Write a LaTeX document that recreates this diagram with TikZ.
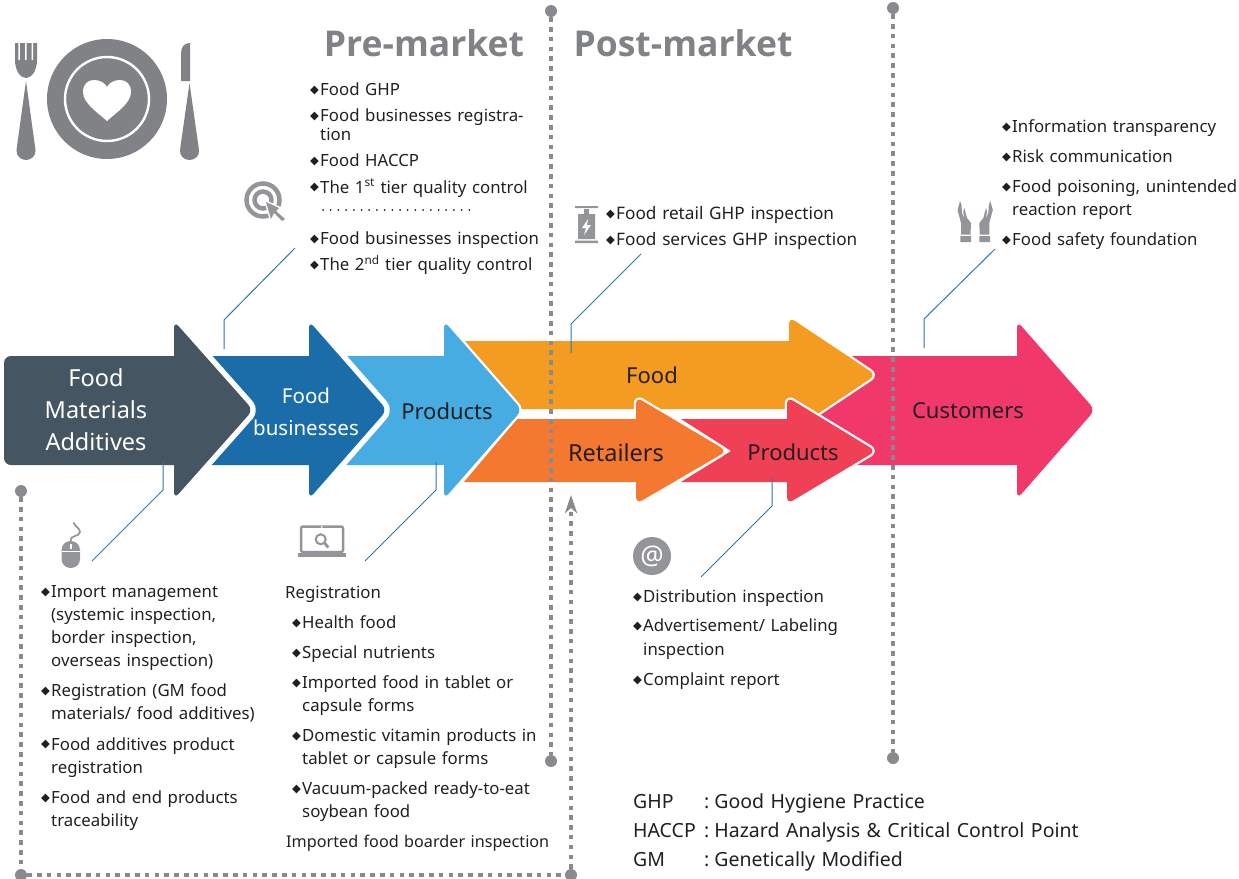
\documentclass[tikz,border=0pt]{standalone}
\usepackage{fontspec}
\setmainfont{Noto Sans}
\newfontfamily\symfont{DejaVu Sans}
\newfontfamily\headfont{Open Sans}
\usepackage{tikz}
\usetikzlibrary{arrows.meta}
\definecolor{matcol}{HTML}{455561}
\definecolor{buscol}{HTML}{1A6DA9}
\definecolor{procol}{HTML}{47ACE2}
\definecolor{foodcol}{HTML}{F39C21}
\definecolor{retcol}{HTML}{F4782F}
\definecolor{redcol}{HTML}{EF4055}
\definecolor{cuscol}{HTML}{F0396A}
\definecolor{iconcol}{HTML}{808285}
\definecolor{softcol}{HTML}{939598}
\definecolor{dotcol}{HTML}{8A8A8E}
\definecolor{leadcol}{HTML}{2B78B4}
\definecolor{inkcol}{HTML}{231F20}
\newcommand{\dia}{\raisebox{2.5pt}{\makebox[10pt][l]{\symfont\fontsize{11.5}{11.5}\selectfont ◆}}}
\newcommand{\ind}{\hspace*{10pt}}

\begin{document}
\begin{tikzpicture}[x=1pt,y=-1pt,node distance=30pt,text=inkcol]
\tikzset{wideband/.style={preaction={draw=white,line width=11pt,line join=round}}}
\tikzset{thinband/.style={preaction={draw=white,line width=4.5pt,line join=round}}}
\tikzset{tipc/.style={rounded corners=7pt},flat/.style={sharp corners}}
\tikzset{dotline/.style={draw=dotcol,line width=4pt,dash pattern=on 4.5pt off 5.3pt}}
\tikzset{dotend/.style={circle,fill=dotcol,inner sep=0pt,minimum size=12pt}}
\tikzset{leader/.style={draw=leadcol,line width=1pt}}
\tikzset{item/.style={inner sep=0pt,text width=#1,align=left,font=\fontsize{16.8}{19}\selectfont,
                      execute at begin node=\strut,execute at end node=\strut}}
\tikzset{arrowtext/.style={inner sep=0pt,align=center,font=\fontsize{22}{32}\selectfont}}
\tikzset{headtext/.style={inner sep=0pt,text=iconcol,font=\fontsize{35.5}{40}\headfont\bfseries}}
\tikzset{abbrev/.style={item=480pt,font=\fontsize{19.5}{19}\selectfont}}
\useasboundingbox (0,0) rectangle (1239,878);

        % arrows
        \path[thinband,fill=cuscol] (800,356) [flat] -- (1017,356) [tipc] -- (1017,321) -- (1095,410) -- (1017,499) [flat] -- (1017,465) -- (800,465) -- cycle;
        \path[thinband,fill=foodcol] (465,341) [flat] -- (789,341) [tipc] -- (789,317) -- (876,375) -- (789,433) [flat] -- (789,409) -- (518,409) -- cycle;
        \path[thinband,fill=redcol] (681,419) [flat] -- (787,419) [tipc] -- (787,397) -- (876,451) -- (787,504) [flat] -- (787,482) -- (681,482) -- (731,451) -- cycle;
        \path[thinband,fill=retcol] (517,419) [flat] -- (636,419) [tipc] -- (636,397) -- (727,451) -- (636,504) [flat] -- (636,482) -- (464,482) -- cycle;
        \path[thinband,fill=procol] (330,356) [flat] -- (444,356) [tipc] -- (444,321) -- (522,410) -- (444,499) [flat] -- (444,465) -- (330,465) -- cycle;
        \path[wideband,fill=buscol] (190,356) [flat] -- (309,356) [tipc] -- (309,321) -- (387,410) -- (309,499) [flat] -- (309,465) -- (190,465) -- cycle;
        \path[wideband,fill=matcol] (4,410) [rounded corners=7pt] -- (4,356) [flat] -- (174,356) [tipc] -- (174,321) -- (253,410) -- (174,499) [flat] -- (174,465) [rounded corners=7pt] -- (4,465) [flat] -- cycle;

        \node[arrowtext,text=white,font=\fontsize{23.5}{32}\selectfont] (mat) at (96,410) {Food\\Materials\\Additives};
        \node[arrowtext,text=white,font=\fontsize{20.5}{32}\selectfont] (bus) at (306,412) {Food\\businesses};
        \node[arrowtext] (pro) at (447,411) {Products};
        \node[arrowtext] (food) at (652,375) {Food};
        \node[arrowtext,font=\fontsize{23.5}{32}\selectfont] (ret) at (616,453) {Retailers};
        \node[arrowtext] (red) at (793,452) {Products};
        \node[arrowtext] (cus) at (968,411) {Customers};

        \node[headtext] (pre) at (424,43) {Pre-market};
        \node[headtext] (post) at (683,43) {Post-market};

        % dotted lines
        \node[dotend] (d1) at (551,11) {};
        \node[dotend] (d2) at (551,761) {};
        \node[dotend] (d3) at (893,8) {};
        \node[dotend] (d4) at (893,758) {};
        \node[dotend] (d5) at (21,491) {};
        \node[dotend] (d6) at (21,875) {};
        \node[dotend] (d7) at (571,875) {};
        \coordinate (dtip) at (571,495);
        \draw[dotline] (d1) -- (d2);
        \draw[dotline] (d3) -- (d4);
        \draw[dotline] (d5) -- (d6);
        \draw[dotline] (d6) -- (d7);
        \draw[dotline,-{Stealth[length=18pt,width=12pt,inset=5pt]}] (d7) -- (dtip);

        % leaders
        \coordinate (lb1) at (224,349);
        \coordinate (lb2) at (224,320);
        \coordinate (lb3) at (295,248);
        \coordinate (lm1) at (163,462);
        \coordinate (lm2) at (163,490);
        \coordinate (lm3) at (92,561);
        \coordinate (lp1) at (436,462);
        \coordinate (lp2) at (436,490);
        \coordinate (lp3) at (365,561);
        \coordinate (lf1) at (571,353);
        \coordinate (lf2) at (571,324);
        \coordinate (lf3) at (641,254);
        \coordinate (lc1) at (924,348);
        \coordinate (lc2) at (924,319);
        \coordinate (lc3) at (995,249);
        \coordinate (lr1) at (772,477);
        \coordinate (lr2) at (772,506);
        \coordinate (lr3) at (701,577);
        \draw[leader] (lb1) -- (lb2) -- (lb3);
        \draw[leader] (lm1) -- (lm2) -- (lm3);
        \draw[leader] (lp1) -- (lp2) -- (lp3);
        \draw[leader] (lf1) -- (lf2) -- (lf3);
        \draw[leader] (lc1) -- (lc2) -- (lc3);
        \draw[leader] (lr1) -- (lr2) -- (lr3);

        % pre-market list
        \node[item=235pt,anchor=west] (pre1) at (310,92) {\dia Food GHP};
        \node[item=235pt,node distance=35.5pt] (pre2) [below of=pre1] {\dia Food businesses registra-\\\ind tion};
        \node[item=235pt,node distance=35.5pt] (pre3) [below of=pre2] {\dia Food HACCP};
        \node[item=235pt,node distance=26pt] (pre4) [below of=pre3] {\dia The 1\textsuperscript{st} tier quality control};
        \coordinate (sep1) at (323,210);
        \coordinate (sep2) at (470,210);
        \draw[draw=inkcol,line width=2pt,line cap=round,dash pattern=on 0pt off 7.7pt] (sep1) -- (sep2);
        \node[item=235pt,node distance=52pt] (pre5) [below of=pre4] {\dia Food businesses inspection};
        \node[item=235pt,node distance=25pt] (pre6) [below of=pre5] {\dia The 2\textsuperscript{nd} tier quality control};

        % materials list
        \node[item=235pt,anchor=west] (mat1) at (41,628.5) {\dia Import management\\[4pt]\ind (systemic inspection,\\[4pt]\ind border inspection,\\[4pt]\ind overseas inspection)};
        \node[item=235pt,node distance=76pt] (mat2) [below of=mat1] {\dia Registration (GM food\\[4pt]\ind materials/ food additives)};
        \node[item=235pt,node distance=53.5pt] (mat3) [below of=mat2] {\dia Food additives product\\[4pt]\ind registration};
        \node[item=235pt,node distance=53.5pt] (mat4) [below of=mat3] {\dia Food and end products\\[4pt]\ind traceability};

        % products list
        \node[item=280pt,anchor=west] (reg0) at (285,595) {Registration};
        \node[item=280pt,xshift=7pt] (reg1) [below of=reg0] {\dia Health food};
        \node[item=280pt] (reg2) [below of=reg1] {\dia Special nutrients};
        \node[item=280pt,node distance=41.5pt] (reg3) [below of=reg2] {\dia Imported food in tablet or\\[4pt]\ind capsule forms};
        \node[item=280pt,node distance=53pt] (reg4) [below of=reg3] {\dia Domestic vitamin products in\\[4pt]\ind tablet or capsule forms};
        \node[item=280pt,node distance=53pt] (reg5) [below of=reg4] {\dia Vacuum-packed ready-to-eat\\[4pt]\ind soybean food};
        \node[item=280pt,node distance=41.5pt,xshift=-6pt,font=\fontsize{16.2}{19}\selectfont] (reg6) [below of=reg5] {Imported food boarder inspection};

        % post-market lists
        \node[item=255pt,anchor=west,font=\fontsize{17.2}{19}\selectfont] (ins1) at (606,216) {\dia Food retail GHP inspection};
        \node[item=255pt,node distance=26pt,font=\fontsize{17.2}{19}\selectfont] (ins2) [below of=ins1] {\dia Food services GHP inspection};

        \node[item=235pt,anchor=west] (cus1) at (1002,129) {\dia Information transparency};
        \node[item=235pt] (cus2) [below of=cus1] {\dia Risk communication};
        \node[item=235pt,node distance=41.5pt] (cus3) [below of=cus2] {\mbox{\dia Food poisoning, unintended}\\[4pt]\ind reaction report};
        \node[item=235pt,node distance=41.5pt] (cus4) [below of=cus3] {\dia Food safety foundation};

        \node[item=235pt,anchor=west] (dis1) at (633,599) {\dia Distribution inspection};
        \node[item=235pt,node distance=41pt] (dis2) [below of=dis1] {\dia Advertisement/ Labeling\\[5pt]\ind inspection};
        \node[item=235pt,node distance=42pt] (dis3) [below of=dis2] {\dia Complaint report};

        % abbreviations
        \node[abbrev,anchor=west] (abb1) at (633,804) {\makebox[71pt][l]{GHP}:\hspace{5pt}Good Hygiene Practice};
        \node[abbrev,node distance=29pt] (abb2) [below of=abb1] {\makebox[71pt][l]{HACCP}:\hspace{5pt}Hazard Analysis \& Critical Control Point};
        \node[abbrev,node distance=29pt] (abb3) [below of=abb2] {\makebox[71pt][l]{GM}:\hspace{5pt}Genetically Modified};

        % plate
        \fill[iconcol] (107,99) circle[radius=60pt];
        \draw[white,line width=2.4pt] (107,99) circle[radius=42pt];
        \fill[white] (107,121) .. controls (97,112) and (83,103) .. (83,92) .. controls (83,84) and (88,80) .. (94,80) .. controls (100,80) and (105,83) .. (107,87) .. controls (109,83) and (114,80) .. (120,80) .. controls (126,80) and (131,84) .. (131,92) .. controls (131,103) and (117,112) .. (107,121) -- cycle;
        \fill[iconcol] (15,43) -- (37,43) -- (37,60) .. controls (37,70) and (32,78) .. (26,78) .. controls (20,78) and (15,70) .. (15,60) -- cycle;
        \fill[white] (18.3,43) rectangle (19.8,60) (25,43) rectangle (26.5,60) (31.6,43) rectangle (33.1,60);
        \fill[iconcol] (26,81) -- (35.5,150) .. controls (36,156) and (31,160) .. (26,160) .. controls (21,160) and (16,156) .. (16.5,150) -- cycle;
        \fill[iconcol] (190,43) .. controls (184,43) and (181,47) .. (181,54) -- (181,81) -- (190,81) -- cycle;
        \fill[iconcol] (189.5,83) -- (199,150) .. controls (199.5,156) and (195,160) .. (189.5,160) .. controls (184,160) and (179.5,156) .. (180,150) -- cycle;

        % target
        \draw[softcol,line width=4.5pt] (263,200) circle[radius=16.5pt];
        \draw[softcol,line width=4.5pt] (263,200) circle[radius=8.5pt];
        \draw[white,line width=3pt,fill=white] (266,202) -- (279,208) -- (276,211) -- (285,219) -- (282,221) -- (274,213) -- (271,219) -- cycle;
        \fill[softcol] (266,202) -- (279,208) -- (276,211) -- (285,219) -- (282,221) -- (274,213) -- (271,219) -- cycle;

        % mouse
        \fill[softcol,rounded corners=9pt] (61.5,541) rectangle (80,568);
        \fill[white] (70,543.5) rectangle (71.6,548.5);
        \draw[white,line width=1pt] (61.5,551.5) -- (80,551.5);
        \draw[softcol,line width=1.7pt] (70.7,541) .. controls (69,535) and (80,537) .. (80,532) .. controls (80,528) and (75,527) .. (73.5,522.5);

        % laptop
        \draw[softcol,line width=2.5pt,fill=white,rounded corners=2pt] (301,526.5) rectangle (343,552);
        \fill[softcol] (298,553) rectangle (346,557);
        \fill[white] (321.8,526.8) circle[radius=1pt];
        \draw[softcol,line width=2pt] (320.7,539.3) circle[radius=5pt];
        \draw[softcol,line width=2.8pt] (324.5,543) -- (328.3,547.5);

        % battery
        \fill[softcol] (575,206) rectangle (598,208) (575,240.5) rectangle (598,243);
        \fill[softcol] (584,209) rectangle (589,214) (578,214) rectangle (595,239);
        \fill[white] (588,219) -- (582,228) -- (586,228) -- (584,235) -- (591,225) -- (587,225) -- cycle;

        % hands
        \fill[softcol] (960,201) -- (957.5,210) -- (961,223) -- (961,234.5) -- (970.5,234.5) -- (971,223) -- (967,218) -- (964.3,208) -- (963.2,212) -- (964.7,219) -- (962,213) -- (961.5,205) -- cycle;
        \fill[softcol] (990.3,201) -- (992.8,210) -- (989.3,223) -- (989.3,234.5) -- (979.8,234.5) -- (979.3,223) -- (983.3,218) -- (986,208) -- (987.1,212) -- (985.6,219) -- (988.3,213) -- (988.8,205) -- cycle;
        \fill[softcol] (960.3,236) rectangle (971,242) (979.3,236) rectangle (990,242);

        % at sign
        \node[circle,fill=softcol,inner sep=0pt,minimum size=38pt,text=white,font=\fontsize{26}{26}\selectfont\bfseries] (at) at (652,556) {@};

\end{tikzpicture}
\end{document}
